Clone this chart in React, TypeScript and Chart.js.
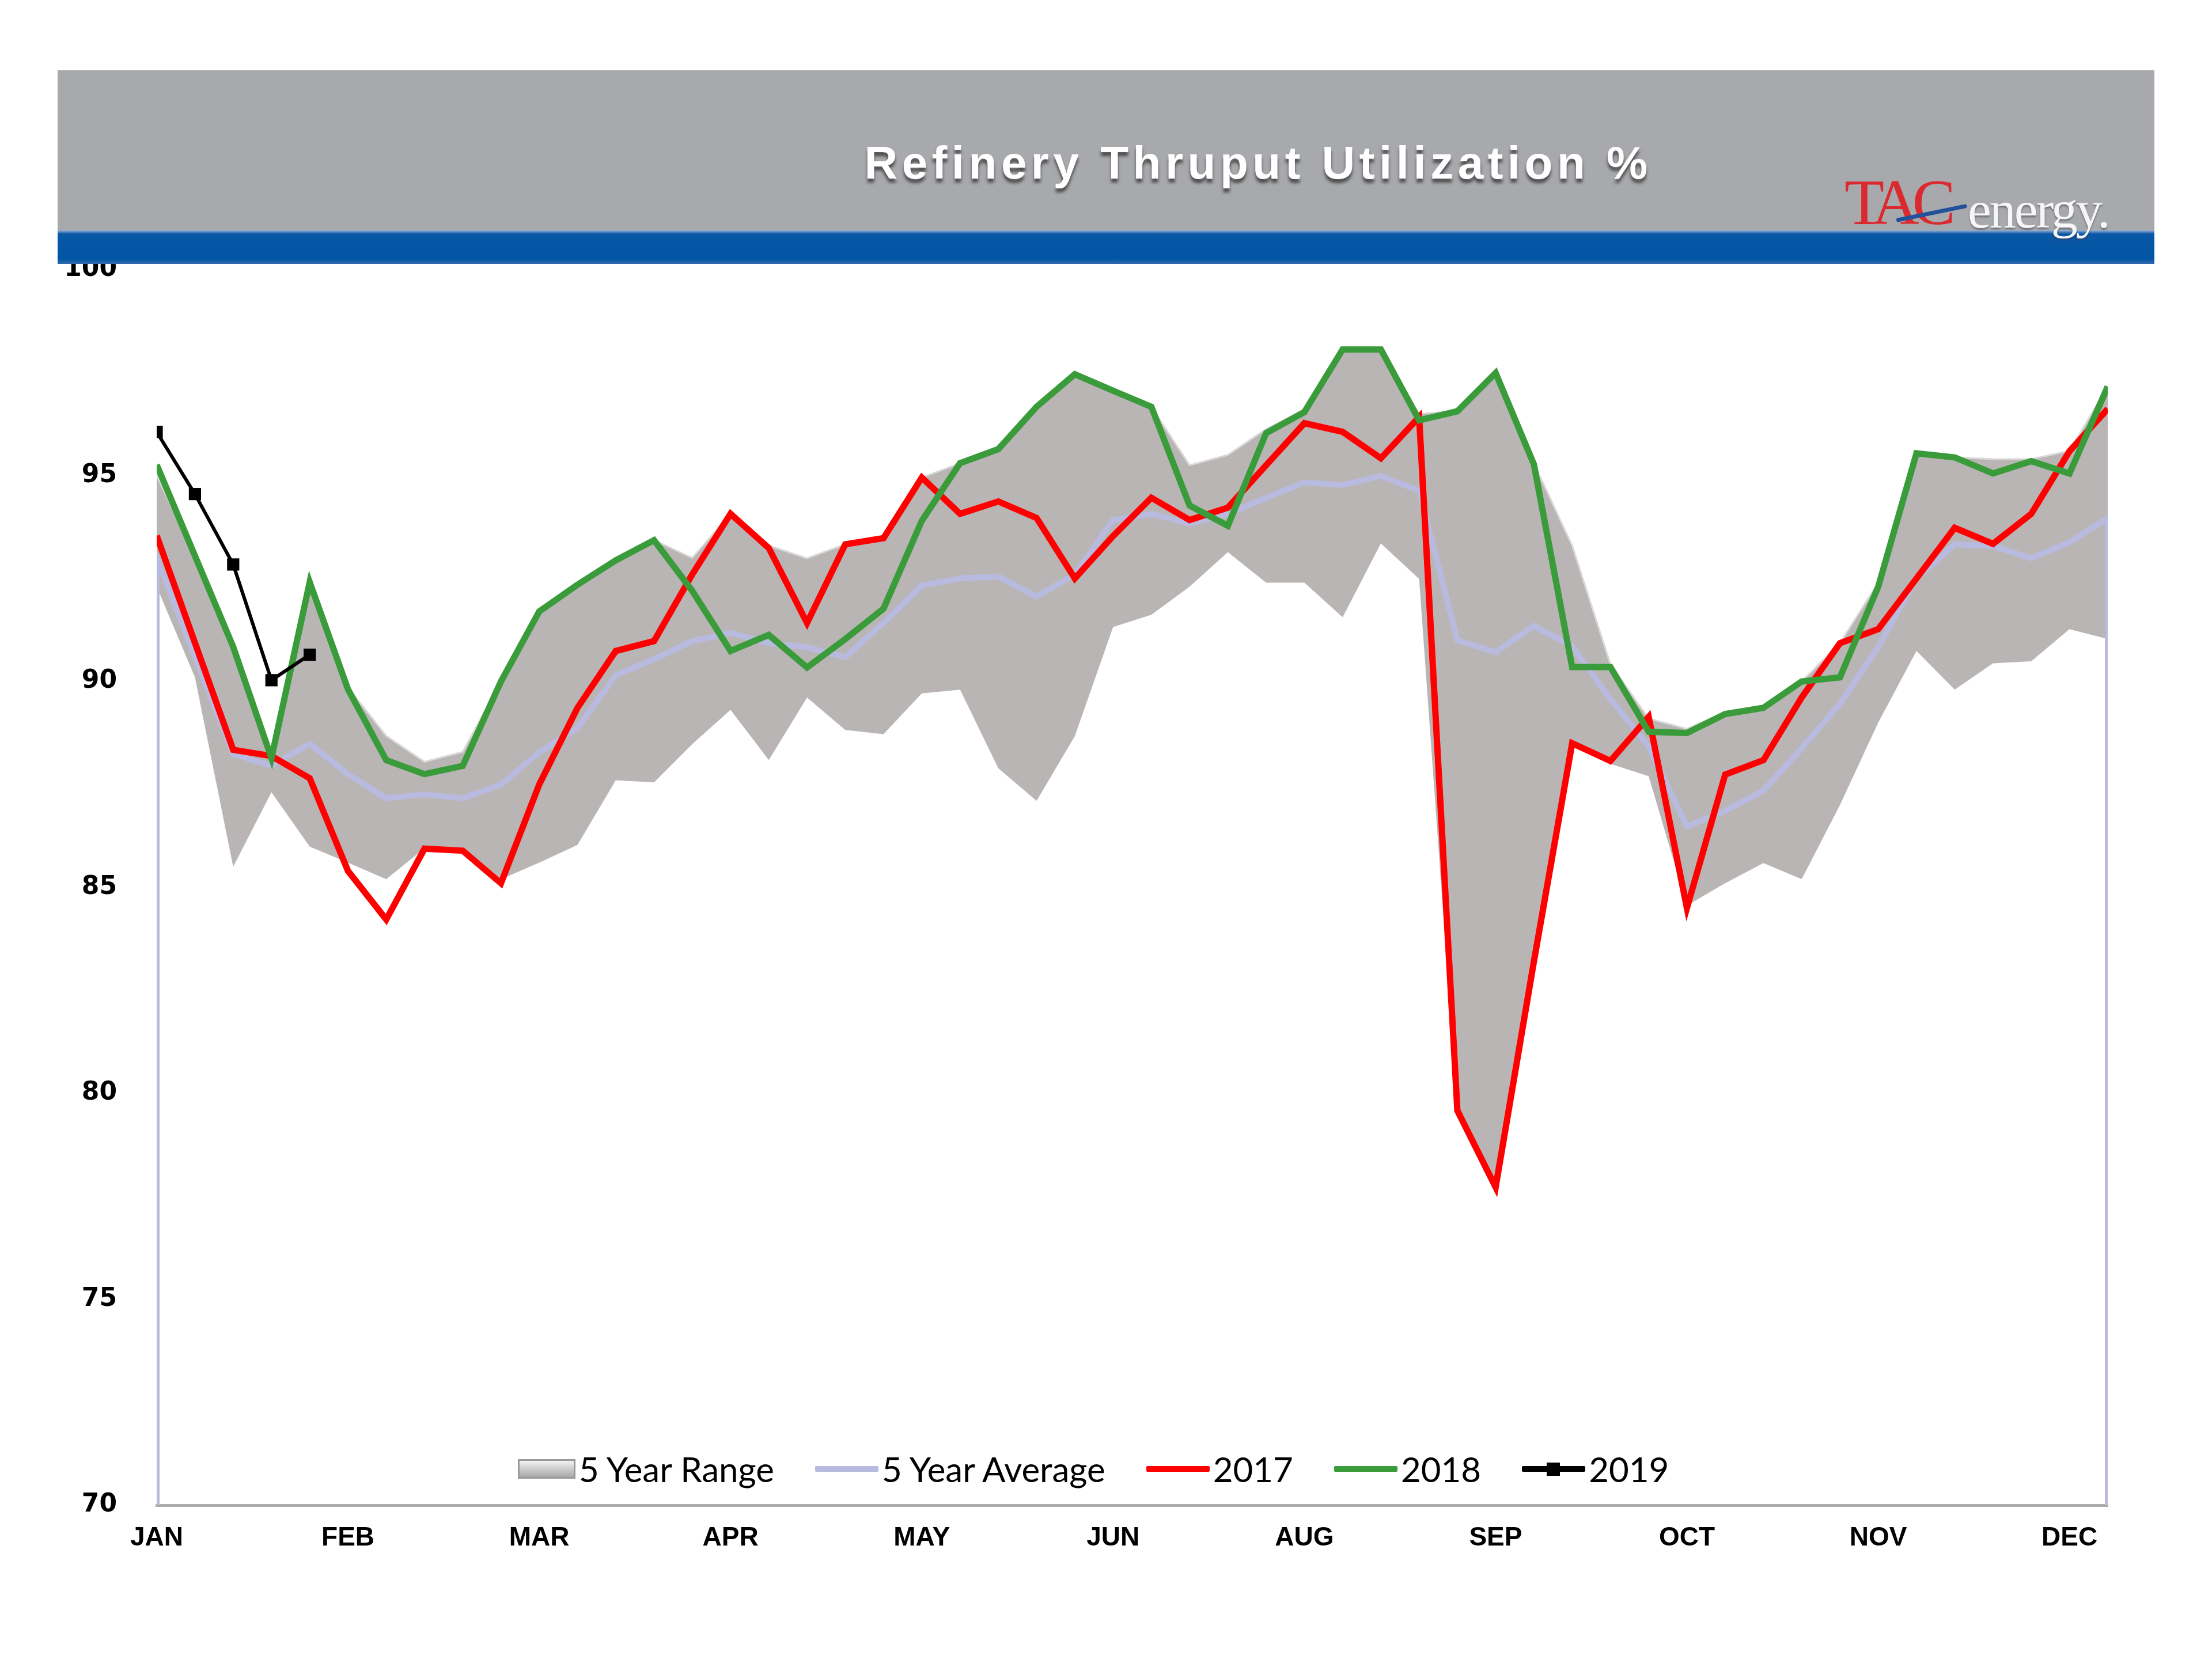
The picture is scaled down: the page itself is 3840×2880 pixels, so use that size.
import React, { useEffect, useRef } from 'react';
import { Chart, registerables } from 'chart.js';

Chart.register(...registerables);

// ---- data (weekly, 52 weeks) ----
const MONTHS = ['JAN', 'FEB', 'MAR', 'APR', 'MAY', 'JUN', 'AUG', 'SEP', 'OCT', 'NOV', 'DEC'];
const WEEKS_PER_LABEL = 5;
const Y_TICKS = [70, 75, 80, 85, 90, 95, 100];

const RANGE_HIGH = [
  95.0, 93.05, 90.84, 88.2, 92.41, 89.85, 88.68, 88.05, 88.29, 90.0,
  91.7, 92.35, 92.94, 93.43, 93.0, 94.07, 93.3, 92.99, 93.33, 93.48,
  94.95, 95.3, 95.64, 96.67, 97.46, 97.06, 96.67, 95.25, 95.5, 96.13,
  96.6, 98.06, 98.06, 96.5, 96.56, 97.49, 95.3, 93.3, 90.42, 89.1,
  88.85, 89.25, 89.4, 90.0, 90.93, 92.4, 95.54, 95.44, 95.4, 95.4,
  95.6, 97.16,
];
const RANGE_LOW = [
  92.3, 90.1, 85.5, 87.31, 85.99, 85.6, 85.2, 85.95, 85.9, 85.2,
  85.6, 86.03, 87.6, 87.55, 88.48, 89.31, 88.09, 89.61, 88.82, 88.72,
  89.71, 89.8, 87.89, 87.1, 88.67, 91.32, 91.62, 92.3, 93.14, 92.4,
  92.4, 91.56, 93.35, 92.49, 79.58, 77.72, 83.2, 88.5, 88.0, 87.7,
  84.56, 85.1, 85.59, 85.2, 87.0, 89.0, 90.74, 89.8, 90.44, 90.49,
  91.27, 91.03,
];
const AVG_5Y = [
  93.0, 90.6, 88.24, 87.95, 88.49, 87.75, 87.16, 87.26, 87.16, 87.5,
  88.28, 88.87, 90.15, 90.54, 90.98, 91.18, 90.93, 90.83, 90.59, 91.42,
  92.33, 92.5, 92.55, 92.06, 92.6, 93.92, 94.07, 93.83, 94.07, 94.46,
  94.83, 94.77, 94.99, 94.63, 91.0, 90.71, 91.35, 90.85, 89.57, 88.42,
  86.48, 86.86, 87.35, 88.38, 89.46, 90.83, 92.5, 93.33, 93.29, 92.99,
  93.38, 93.97,
];
const AVG_BASE = 0; // Excel drops the average series to zero at both ends
const Y2017 = [
  93.54, 90.94, 88.34, 88.19, 87.65, 85.4, 84.22, 85.94, 85.89, 85.1,
  87.5, 89.36, 90.74, 90.98, 92.6, 94.07, 93.24, 91.42, 93.33, 93.48,
  94.95, 94.07, 94.37, 93.97, 92.5, 93.53, 94.46, 93.92, 94.22, 95.25,
  96.27, 96.06, 95.42, 96.42, 79.58, 77.72, 83.2, 88.5, 88.07, 89.14,
  84.5, 87.74, 88.09, 89.61, 90.93, 91.27, 92.5, 93.73, 93.34, 94.07,
  95.59, 96.62,
];
const Y2018 = [
  95.26, 93.05, 90.84, 88.14, 92.41, 89.81, 88.09, 87.75, 87.95, 90.0,
  91.7, 92.35, 92.94, 93.43, 92.2, 90.74, 91.13, 90.34, 91.03, 91.77,
  93.9, 95.3, 95.64, 96.67, 97.46, 97.06, 96.67, 94.27, 93.78, 96.03,
  96.54, 98.06, 98.06, 96.34, 96.56, 97.49, 95.27, 90.35, 90.35, 88.78,
  88.75, 89.21, 89.36, 90.0, 90.1, 92.3, 95.54, 95.44, 95.05, 95.35,
  95.05, 97.16,
];
const Y2019 = [96.06, 94.55, 92.84, 90.03, 90.65];

const COLORS = {
  range: '#B9B5B5',
  rangeEdge: '#DAD8D8',
  avg: '#B8BBDF',
  y2017: '#FF0000',
  y2018: '#3A9B3A',
  y2019: '#000000',
};

const W = 3840;
const H = 2880;

const pts = (arr: number[]) => arr.map((y, i) => ({ x: i, y }));

function LegendItem({ kind, color, label }: { kind: string; color: string; label: string }) {
  let sym: React.ReactNode;
  if (kind === 'area') {
    sym = (
      <div
        style={{
          width: 100,
          height: 34,
          boxSizing: 'border-box',
          border: '3px solid #9A9A9A',
          background: 'linear-gradient(#F2F2F2, #C9C9C9 55%, #A9A9A9)',
        }}
      />
    );
  } else {
    sym = (
      <div style={{ position: 'relative', width: 110, height: 34 }}>
        <div
          style={{
            position: 'absolute',
            left: 0,
            top: 12,
            width: 110,
            height: 10,
            background: color,
            borderRadius: 2,
          }}
        />
        {kind === 'marker' && (
          <div
            style={{
              position: 'absolute',
              left: 43,
              top: 6,
              width: 23,
              height: 23,
              background: color,
            }}
          />
        )}
      </div>
    );
  }
  return (
    <div style={{ display: 'flex', alignItems: 'center' }}>
      {sym}
      <span style={{ marginLeft: 6 }}>{label}</span>
    </div>
  );
}

export default function App() {
  const ref = useRef<HTMLCanvasElement>(null);

  useEffect(() => {
    if (!ref.current) return;
    const last = AVG_5Y.length - 1;
    const avgPts = [{ x: 0, y: AVG_BASE }, ...pts(AVG_5Y), { x: last, y: AVG_BASE }];
    const chart = new Chart(ref.current, {
      type: 'line',
      data: {
        datasets: [
          {
            label: '2019',
            data: pts(Y2019),
            borderColor: COLORS.y2019,
            backgroundColor: COLORS.y2019,
            borderWidth: 6,
            pointStyle: 'rect',
            pointRadius: 15,
            pointBorderWidth: 0,
            pointBackgroundColor: COLORS.y2019,
            tension: 0,
            order: 0,
          },
          {
            label: '2018',
            data: pts(Y2018),
            borderColor: COLORS.y2018,
            borderWidth: 11,
            pointRadius: 0,
            tension: 0,
            order: 1,
          },
          {
            label: '2017',
            data: pts(Y2017),
            borderColor: COLORS.y2017,
            borderWidth: 11,
            pointRadius: 0,
            tension: 0,
            order: 2,
          },
          {
            label: '5 Year Average',
            data: avgPts,
            borderColor: COLORS.avg,
            borderWidth: 10,
            pointRadius: 0,
            tension: 0,
            order: 3,
          },
          {
            label: '5 Year Range',
            data: pts(RANGE_HIGH),
            borderColor: COLORS.rangeEdge,
            borderWidth: 3,
            backgroundColor: COLORS.range,
            pointRadius: 0,
            tension: 0,
            fill: '+1',
            order: 4,
          },
          {
            label: 'range-low',
            data: pts(RANGE_LOW),
            borderColor: 'rgba(0,0,0,0)',
            borderWidth: 0,
            pointRadius: 0,
            tension: 0,
            fill: false,
            order: 5,
          },
        ],
      },
      options: {
        animation: false,
        responsive: false,
        devicePixelRatio: 1,
        layout: { padding: { left: 0, right: 181, top: 468, bottom: 0 } },
        plugins: {
          legend: { display: false },
          tooltip: { enabled: false },
          title: { display: false },
        },
        scales: {
          x: {
            type: 'linear',
            min: 0,
            max: AVG_5Y.length - 1,
            afterBuildTicks: (s: any) => {
              s.ticks = MONTHS.map((_, k) => ({ value: k * WEEKS_PER_LABEL }));
            },
            afterFit: (s: any) => {
              s.height = 267;
            },
            ticks: {
              autoSkip: false,
              maxRotation: 0,
              padding: 30,
              color: '#000',
              font: { family: 'Liberation Sans', weight: 'bold', size: 46 },
              callback: (v: any) => MONTHS[Math.round(Number(v) / WEEKS_PER_LABEL)] ?? '',
            },
            grid: { display: false, drawTicks: false },
            border: { display: true, color: '#ABABAB', width: 5 },
          },
          y: {
            min: 70,
            max: 100,
            afterBuildTicks: (s: any) => {
              s.ticks = Y_TICKS.map((v) => ({ value: v }));
            },
            afterFit: (s: any) => {
              s.width = 272;
            },
            ticks: {
              padding: 69,
              color: '#000',
              font: { family: 'DejaVu Sans', weight: 'bold', size: 44 },
            },
            grid: { display: false, drawTicks: false },
            border: { display: false },
          },
        },
      },
    } as any);
    return () => chart.destroy();
  }, []);

  return (
    <div
      style={{
        position: 'absolute',
        left: 0,
        top: 0,
        width: W,
        height: H,
        background: '#fff',
        overflow: 'hidden',
      }}
    >
      <canvas
        ref={ref}
        width={W}
        height={H}
        style={{ position: 'absolute', left: 0, top: 0, width: W, height: H }}
      />
      {/* header band */}
      <div style={{ position: 'absolute', left: 100, top: 122, width: 3640, height: 277, background: '#A8A9AC' }} />
      <div
        style={{
          position: 'absolute',
          left: 100,
          top: 399,
          width: 3640,
          height: 59,
          background: 'linear-gradient(#A9BBD6 0px, #0A58A6 7px, #0055A4 50px, #2F68AE 59px)',
        }}
      />
      <div
        style={{
          position: 'absolute',
          left: 1184,
          top: 243,
          width: 2000,
          textAlign: 'center',
          fontFamily: 'Liberation Sans, Arial, sans-serif',
          fontWeight: 'bold',
          fontSize: 80,
          lineHeight: '80px',
          letterSpacing: 7.5,
          color: '#FFFFFF',
          textShadow: '0 7px 5px rgba(50,50,50,0.75)',
          whiteSpace: 'nowrap',
        }}
      >
        Refinery Thruput Utilization %
      </div>
      {/* logo */}
      <div
        style={{
          position: 'absolute',
          left: 3202,
          top: 294,
          fontFamily: 'Liberation Serif, serif',
          fontSize: 113,
          lineHeight: '113px',
          letterSpacing: -12,
          color: '#DA2A30',
          whiteSpace: 'nowrap',
        }}
      >
        TAC
      </div>
      <div
        style={{
          position: 'absolute',
          left: 3292,
          top: 379,
          width: 125,
          height: 7,
          borderRadius: 4,
          background: '#22509A',
          transform: 'rotate(-11.6deg)',
          transformOrigin: 'left center',
        }}
      />
      <div
        style={{
          position: 'absolute',
          left: 3416,
          top: 318,
          fontFamily: 'Liberation Serif, serif',
          fontSize: 92,
          lineHeight: '92px',
          letterSpacing: -3,
          color: '#F6F6F8',
          textShadow: '0 3px 3px rgba(60,60,80,0.55)',
          whiteSpace: 'nowrap',
        }}
      >
        energy.
      </div>
      {/* legend */}
      <div
        style={{
          position: 'absolute',
          left: 899,
          top: 2515,
          height: 70,
          display: 'flex',
          alignItems: 'center',
          gap: 71,
          fontFamily: 'Lato, sans-serif',
          fontSize: 60,
          color: '#000',
          whiteSpace: 'nowrap',
        }}
      >
        <LegendItem kind="area" color={COLORS.range} label="5 Year Range" />
        <LegendItem kind="line" color={COLORS.avg} label="5 Year Average" />
        <LegendItem kind="line" color={COLORS.y2017} label="2017" />
        <LegendItem kind="line" color={COLORS.y2018} label="2018" />
        <LegendItem kind="marker" color={COLORS.y2019} label="2019" />
      </div>
    </div>
  );
}
